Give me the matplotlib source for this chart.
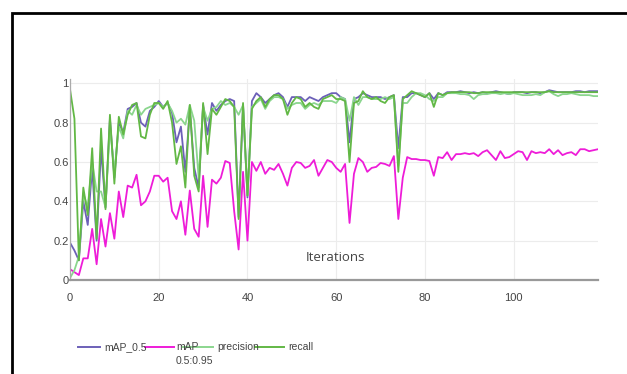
import matplotlib
matplotlib.use("Agg")
import matplotlib.pyplot as plt
from matplotlib.lines import Line2D
from matplotlib.patches import Rectangle

epochs = list(range(120))

map_05 = [0.19, 0.15, 0.10, 0.40, 0.28, 0.57, 0.20, 0.67, 0.37, 0.82,
          0.52, 0.80, 0.75, 0.87, 0.88, 0.90, 0.80, 0.78, 0.86, 0.88,
          0.91, 0.88, 0.90, 0.85, 0.70, 0.78, 0.55, 0.87, 0.57, 0.47,
          0.89, 0.74, 0.90, 0.86, 0.89, 0.91, 0.92, 0.91, 0.32, 0.89,
          0.42, 0.91, 0.95, 0.93, 0.90, 0.92, 0.94, 0.95, 0.93, 0.88,
          0.93, 0.93, 0.93, 0.91, 0.93, 0.92, 0.91, 0.93, 0.94, 0.95,
          0.95, 0.93, 0.92, 0.70, 0.92, 0.93, 0.95, 0.94, 0.93, 0.93,
          0.93, 0.92, 0.93, 0.94, 0.67, 0.93, 0.93, 0.95, 0.95, 0.94,
          0.93, 0.95, 0.92, 0.95, 0.94, 0.955, 0.955, 0.955, 0.96, 0.955,
          0.95, 0.955, 0.95, 0.955, 0.95, 0.955, 0.96, 0.955, 0.95, 0.945,
          0.955, 0.955, 0.955, 0.95, 0.955, 0.955, 0.95, 0.955, 0.965, 0.96,
          0.955, 0.955, 0.955, 0.955, 0.96, 0.96, 0.955, 0.96, 0.96, 0.96]

map_05_095 = [0.055, 0.04, 0.025, 0.11, 0.11, 0.26, 0.08, 0.31, 0.17, 0.34,
              0.21, 0.45, 0.32, 0.48, 0.47, 0.535, 0.38, 0.40, 0.45, 0.53,
              0.53, 0.50, 0.52, 0.35, 0.31, 0.40, 0.23, 0.455, 0.26, 0.22,
              0.53, 0.27, 0.51, 0.49, 0.52, 0.605, 0.595, 0.35, 0.155, 0.55,
              0.20, 0.60, 0.555, 0.60, 0.54, 0.57, 0.56, 0.59, 0.54, 0.48,
              0.57, 0.60, 0.595, 0.57, 0.58, 0.61, 0.53, 0.57, 0.61, 0.60,
              0.57, 0.55, 0.59, 0.29, 0.54, 0.62, 0.60, 0.55, 0.57, 0.575,
              0.595, 0.59, 0.58, 0.63, 0.31, 0.52, 0.625, 0.615, 0.615, 0.61,
              0.61, 0.605, 0.53, 0.625, 0.62, 0.65, 0.61, 0.64, 0.64, 0.645,
              0.64, 0.645, 0.63, 0.65, 0.66, 0.635, 0.61, 0.655, 0.62, 0.625,
              0.64, 0.655, 0.65, 0.61, 0.655, 0.645, 0.65, 0.645, 0.665, 0.64,
              0.66, 0.635, 0.645, 0.65, 0.635, 0.665, 0.665, 0.655, 0.66, 0.665]

precision = [0.01, 0.05, 0.12, 0.44, 0.37, 0.60, 0.45, 0.45, 0.37, 0.78,
             0.55, 0.78, 0.72, 0.86, 0.84, 0.89, 0.84, 0.87, 0.88, 0.89,
             0.90, 0.88, 0.90, 0.86, 0.80, 0.82, 0.79, 0.89, 0.81, 0.52,
             0.88, 0.81, 0.87, 0.88, 0.91, 0.89, 0.90, 0.88, 0.84, 0.89,
             0.43, 0.88, 0.90, 0.92, 0.87, 0.91, 0.93, 0.93, 0.92, 0.87,
             0.89, 0.90, 0.90, 0.87, 0.89, 0.90, 0.89, 0.91, 0.91, 0.91,
             0.90, 0.93, 0.92, 0.81, 0.93, 0.89, 0.93, 0.93, 0.92, 0.92,
             0.92, 0.93, 0.92, 0.93, 0.58, 0.90, 0.90, 0.93, 0.95, 0.95,
             0.94, 0.92, 0.91, 0.93, 0.93, 0.95, 0.95, 0.95, 0.945, 0.945,
             0.94, 0.92, 0.94, 0.945, 0.945, 0.95, 0.95, 0.945, 0.95, 0.945,
             0.95, 0.945, 0.94, 0.94, 0.94, 0.945, 0.94, 0.955, 0.96, 0.945,
             0.935, 0.945, 0.945, 0.95, 0.945, 0.94, 0.94, 0.94, 0.935, 0.935]

recall = [0.97, 0.82, 0.10, 0.47, 0.33, 0.67, 0.21, 0.77, 0.36, 0.84,
          0.49, 0.83, 0.74, 0.84, 0.89, 0.90, 0.73, 0.72, 0.84, 0.90,
          0.90, 0.87, 0.91, 0.80, 0.59, 0.68, 0.47, 0.89, 0.53, 0.45,
          0.90, 0.64, 0.87, 0.84, 0.88, 0.92, 0.91, 0.88, 0.31, 0.90,
          0.43, 0.87, 0.91, 0.93, 0.88, 0.92, 0.94, 0.94, 0.92, 0.84,
          0.90, 0.93, 0.92, 0.88, 0.90, 0.88, 0.87, 0.92, 0.93, 0.94,
          0.92, 0.92, 0.91, 0.60, 0.90, 0.91, 0.96, 0.93, 0.92, 0.93,
          0.91, 0.90, 0.93, 0.94, 0.55, 0.92, 0.94, 0.96, 0.95, 0.94,
          0.93, 0.95, 0.88, 0.95, 0.94, 0.95, 0.955, 0.955, 0.955, 0.955,
          0.955, 0.95, 0.95, 0.955, 0.955, 0.955, 0.955, 0.955, 0.955, 0.955,
          0.955, 0.955, 0.955, 0.955, 0.955, 0.955, 0.955, 0.955, 0.96, 0.955,
          0.955, 0.955, 0.955, 0.955, 0.955, 0.955, 0.955, 0.955, 0.955, 0.955]

names = ["mAP_0.5", "mAP\n0.5:0.95", "precision", "recall"]
colors = ["#6c60b8", "#ee1cd8", "#8bd68e", "#62b845"]
series = [map_05, map_05_095, precision, recall]

W, H = 627, 374
fig = plt.figure(figsize=(W / 100, H / 100), dpi=100)
fig.patch.set_facecolor("white")

# black frame, only top and left edges visible
fig.add_artist(Rectangle((12 / W, -0.1), 1.2, 1 - 13 / H + 0.1, transform=fig.transFigure,
                         fill=False, edgecolor="black", linewidth=2))

ax = fig.add_axes([70 / W, 1 - 280 / H, 528 / W, 201 / H])
for vals, c in zip(series, colors):
    ax.plot(epochs, vals, color=c, linewidth=1.3)

ax.set_xlim(0, 119)
ax.set_ylim(0, 1.022)
ax.set_xticks([0, 20, 40, 60, 80, 100])
ax.set_yticks([0, 0.2, 0.4, 0.6, 0.8, 1])
ax.set_yticklabels(["0", "0.2", "0.4", "0.6", "0.8", "1"])
ax.grid(True, color="#ececec", linewidth=0.8)
ax.set_axisbelow(True)
ax.tick_params(length=0, labelsize=8, colors="#444444")
ax.tick_params(axis="x", pad=9.5)
ax.tick_params(axis="y", pad=1)
for lab in ax.get_xticklabels() + ax.get_yticklabels():
    lab.set_family("Liberation Sans")
for s in ["top", "right"]:
    ax.spines[s].set_visible(False)
ax.spines["bottom"].set_color("#999999")
ax.spines["bottom"].set_linewidth(1.6)
ax.spines["left"].set_color("#aaaaaa")
ax.spines["left"].set_linewidth(0.9)

ax.text(0.502, 0.113, "Iterations", transform=ax.transAxes, ha="center", va="center",
        fontsize=9.5, color="#444444", family="Open Sans")

# legend row under the plot
leg_y = 1 - 347 / H
items = [(78, 100, 104), (145, 174, 176), (183, 213, 217), (255, 284, 288)]
for (x0, x1, xt), name, c in zip(items, names, colors):
    fig.add_artist(Line2D([x0 / W, x1 / W], [leg_y, leg_y], transform=fig.transFigure,
                          color=c, linewidth=1.4))
    fig.text(xt / W, leg_y + 5 / H, name, ha="left", va="top", fontsize=7.5,
             color="#444444", family="Liberation Sans", linespacing=1.5)

fig.savefig("out.png", dpi=100)
